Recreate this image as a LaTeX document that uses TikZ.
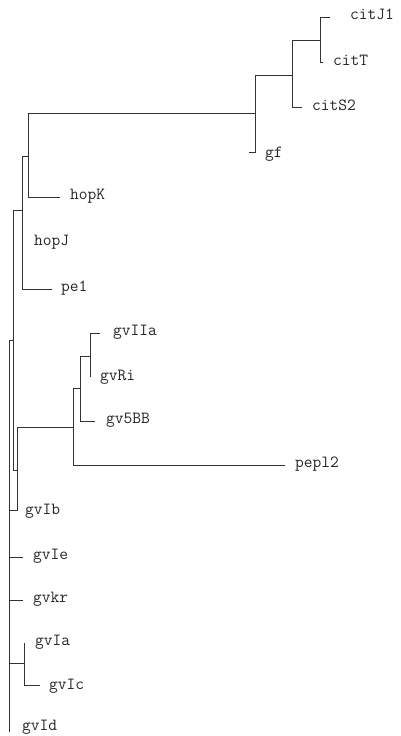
\documentclass[tikz,border=0pt]{standalone}
\usepackage{fontspec}
\begin{document}
\begin{tikzpicture}[x=1pt,y=-1pt,
  lbl/.style={anchor=mid west,inner sep=0pt,font=\ttfamily\fontsize{17}{18}\selectfont,text=black!85},
  br/.style={draw=black!80,line width=0.9pt}]
\useasboundingbox (0,0) rectangle (400,736);
% labels
\node[lbl] (citJ1) at (350,17) {citJ1};
\node[lbl] (citT)  at (333,63) {citT};
\node[lbl] (citS2) at (312,108) {citS2};
\node[lbl] (gf)    at (265,155) {gf};
\node[lbl] (hopK)  at (70,197) {hopK};
\node[lbl] (hopJ)  at (34,243) {hopJ};
\node[lbl] (pe1)   at (61,289) {pe1};
\node[lbl] (gvIIa) at (113,333) {gvIIa};
\node[lbl] (gvRi)  at (100,378) {gvRi};
\node[lbl] (gv5BB) at (106,421) {gv5BB};
\node[lbl] (pepl2) at (295,465) {pepl2};
\node[lbl] (gvIb)  at (25,512) {gvIb};
\node[lbl] (gvIe)  at (33,557) {gvIe};
\node[lbl] (gvkr)  at (33,600) {gvkr};
\node[lbl] (gvIa)  at (35,643) {gvIa};
\node[lbl] (gvIc)  at (49,687) {gvIc};
\node[lbl] (gvId)  at (22,728) {gvId};
% internal coordinates
\coordinate (a1) at (320,17);  \coordinate (a1e) at (330,17);
\coordinate (a2) at (320,62);  \coordinate (a2e) at (323,62);
\coordinate (a3) at (320,40);
\coordinate (b0) at (292,40);  \coordinate (b1) at (292,107); \coordinate (b1e) at (302,107);
\coordinate (b2) at (292,75);
\coordinate (c0) at (255,75);  \coordinate (c1) at (255,152); \coordinate (c1e) at (249,152);
\coordinate (c2) at (255,113);
\coordinate (d0) at (28,113);  \coordinate (d1) at (28,197);  \coordinate (d1e) at (60,197);
\coordinate (d2) at (28,156);
\coordinate (e0) at (22,156);  \coordinate (e1) at (22,289);  \coordinate (e1e) at (52,289);
\coordinate (e2) at (22,210);
\coordinate (f0) at (13,210);  \coordinate (f1) at (13,470);  \coordinate (f2) at (13,340);
\coordinate (r0) at (9,340);   \coordinate (r1) at (9,732);
\coordinate (g0) at (90,333);  \coordinate (g0e) at (100,333); \coordinate (g1) at (90,377);
\coordinate (g2) at (90,356);
\coordinate (h0) at (80,356);  \coordinate (h1) at (80,421);  \coordinate (h1e) at (95,421);
\coordinate (h2) at (80,388);
\coordinate (i0) at (73,388);  \coordinate (i1) at (73,465);  \coordinate (i1e) at (285,465);
\coordinate (i2) at (73,427);
\coordinate (j0) at (17,427);  \coordinate (j1) at (17,510);  \coordinate (j2) at (17,470);
\coordinate (rb) at (9,510);
\coordinate (re) at (9,557);   \coordinate (ree) at (23,557);
\coordinate (rk) at (9,600);   \coordinate (rke) at (23,600);
\coordinate (ra) at (9,663);   \coordinate (k2) at (24,663);
\coordinate (k0) at (24,643);  \coordinate (k1) at (24,685);  \coordinate (k1e) at (40,685);
% branches
\draw[br] (a1e) -- (a1) -- (a2) -- (a2e);
\draw[br] (b0) -- (a3);
\draw[br] (b0) -- (b1) -- (b1e);
\draw[br] (c0) -- (b2);
\draw[br] (c0) -- (c1) -- (c1e);
\draw[br] (d0) -- (c2);
\draw[br] (d0) -- (d1) -- (d1e);
\draw[br] (e0) -- (d2);
\draw[br] (e0) -- (e1) -- (e1e);
\draw[br] (f0) -- (e2);
\draw[br] (f0) -- (f1);
\draw[br] (r0) -- (f2);
\draw[br] (r0) -- (r1);
\draw[br] (g0e) -- (g0) -- (g1);
\draw[br] (h0) -- (g2);
\draw[br] (h0) -- (h1) -- (h1e);
\draw[br] (i0) -- (h2);
\draw[br] (i0) -- (i1) -- (i1e);
\draw[br] (j0) -- (i2);
\draw[br] (j0) -- (j1) -- (rb);
\draw[br] (f1) -- (j2);
\draw[br] (re) -- (ree);
\draw[br] (rk) -- (rke);
\draw[br] (ra) -- (k2);
\draw[br] (k0) -- (k1) -- (k1e);
\end{tikzpicture}
\end{document}
